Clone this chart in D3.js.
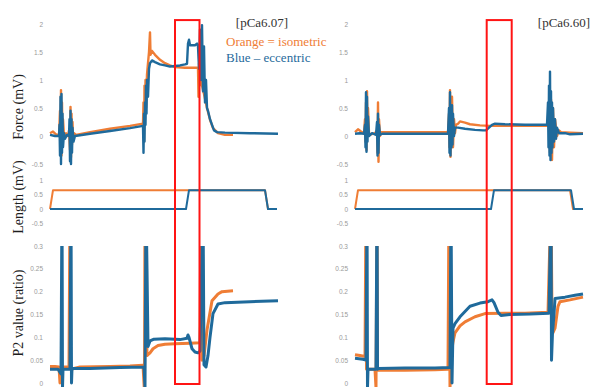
<!DOCTYPE html>
<html>
<head>
<meta charset="utf-8">
<script src="https://cdn.jsdelivr.net/npm/d3@7"></script>
<style>
  body { margin: 0; background: #fff; }
  svg { display: block; }
  .tick text { font-family: "Liberation Sans", sans-serif; font-size: 6.5px; fill: #9a9a9a; }
  .ytitle { font-family: "Liberation Serif", serif; font-size: 14px; fill: #1e1e1e; }
  .label { font-family: "Liberation Serif", serif; font-size: 13px; }
</style>
</head>
<body>
<div id="chart"></div>
<script>
// time in arbitrary units (0..228) along each panel
const forceTicks = [-0.5, 0, 0.5, 1, 1.5, 2];
const lengthTicks = [-0.5, 0, 0.5, 1];
const p2Ticks = [0, 0.05, 0.1, 0.15, 0.2, 0.25, 0.3];

const panelTitles = ['[pCa6.07]', '[pCa6.60]'];
const yTitles = ['Force (mV)', 'Length (mV)', 'P2 value (ratio)'];
const legendLabels = ['Orange = isometric', 'Blue \u2013 eccentric'];

// highlighted window [start, end] per panel
const windows = [[125, 149.5], [131.7, 156.7]];

// ---- pCa6.07 ----
const forceIso607 = [
  [0, 0.05], [3, 0.08], [6, 0.03], [8, 0.02], [9, 0.0], [10, 0.45], [10.5, -0.2], [11, 0.82],
  [11.5, -0.35], [12, 0.6], [12.5, -0.1], [13, 0.3], [14, 0.0], [16, 0.05], [18, 0.0],
  [19, 0.1], [20, -0.25], [20.5, 0.52], [21, -0.38], [21.5, 0.4], [22, -0.15], [22.5, 0.25],
  [23, -0.05], [24, 0.05], [26, 0.02], [40, 0.07], [60, 0.13], [80, 0.18], [93, 0.22],
  [93.5, 0.6], [94, -0.1], [94.5, 0.9], [95, 0.3], [95.5, 1.0], [96, 0.5], [97, 1.1],
  [98, 1.3], [99, 1.5], [100, 1.85], [100.5, 1.45], [102, 1.52], [105, 1.45], [110, 1.36],
  [115, 1.3], [120, 1.26], [125, 1.23], [135, 1.22], [148, 1.22], [148.5, 0.7], [149, 1.3],
  [149.5, 0.9], [150, 1.05], [152, 0.9], [154, 0.75], [157, 0.5], [160, 0.29], [163, 0.14],
  [168, 0.05], [175, 0.02], [183, 0.02]
];
const forceEcc607 = [
  [0, 0.02], [5, 0.0], [9, 0.0], [9.5, 0.2], [10, -0.35], [10.5, 0.7], [11, -0.5], [11.5, 0.75],
  [12, -0.3], [12.5, 0.4], [13, -0.2], [14, 0.05], [15, -0.05], [17, 0.02], [19, 0.0],
  [19.5, 0.3], [20, -0.45], [20.5, 0.45], [21, -0.5], [21.5, 0.3], [22, -0.3], [22.5, 0.15],
  [23.5, -0.1], [25, 0.0], [40, 0.04], [60, 0.09], [80, 0.14], [93, 0.18], [93.5, -0.3],
  [94, 0.4], [94.5, -0.1], [95, 0.6], [95.5, 0.2], [96, 0.9], [96.5, 0.4], [97, 1.0],
  [98, 0.7], [99, 1.2], [100, 1.3], [102, 1.35], [105, 1.32], [110, 1.28], [115, 1.26],
  [120, 1.24], [125, 1.25], [130, 1.26], [135, 1.28], [137, 1.29], [138, 1.65], [139, 1.72],
  [140, 1.62], [145, 1.62], [147, 1.65], [148, 1.6], [149, 1.2], [150, 1.9], [151, 1.0],
  [152, 1.98], [153, 0.8], [154, 1.6], [155, 0.6], [156, 1.0], [157, 0.5], [158, 0.45],
  [160, 0.3], [162, 0.2], [164, 0.1], [167, 0.07], [175, 0.06], [200, 0.05], [228, 0.04]
];
const lengthIso607 = [[0, 0], [3, 0.65], [215, 0.65], [218, 0], [227, 0]];
const lengthEcc607 = [[0, 0], [136, 0], [139, 0.65], [215, 0.65], [218, 0], [227, 0]];
const p2Iso607 = [
  [0, 0.036], [5, 0.036], [9, 0.035], [10, 0.0], [11, 0.035], [19, 0.035], [20, 0.4],
  [20.5, 0.035], [21, 0.03], [30, 0.035], [60, 0.036], [80, 0.037], [93, 0.039], [94.5, -0.02],
  [95, 0.4], [96, 0.2], [97, 0.06], [98, 0.062], [100, 0.066], [103, 0.075], [108, 0.082],
  [115, 0.085], [125, 0.086], [140, 0.087], [150, 0.088], [151, 0.4], [152, 0.05], [154, 0.06],
  [157, 0.116], [162, 0.18], [168, 0.195], [172, 0.2], [183, 0.202]
];
const p2Ecc607 = [
  [0, 0.03], [8, 0.03], [11, 0.02], [12, 0.4], [12.5, -0.01], [13, 0.03], [20, 0.03],
  [21, 0.4], [21.5, 0.0], [22, 0.032], [40, 0.032], [70, 0.034], [94, 0.035], [95, -0.01],
  [96, 0.4], [97, 0.25], [98, 0.08], [100, 0.092], [104, 0.096], [115, 0.097], [130, 0.095],
  [137, 0.098], [138, 0.105], [139, 0.1], [142, 0.075], [145, 0.068], [148, 0.066],
  [150, 0.07], [153, 0.4], [154, 0.04], [156, 0.035], [158, 0.06], [160, 0.1], [163, 0.152],
  [168, 0.173], [175, 0.176], [200, 0.178], [228, 0.18]
];

// ---- pCa6.60 ----
const forceIso660 = [
  [0, 0.07], [3, 0.12], [6, 0.08], [9, 0.05], [10, 0.3], [10.5, -0.1], [11, 0.6], [11.5, -0.25],
  [12, 0.8], [12.5, 0.0], [13, 0.5], [14, 0.05], [16, 0.03], [20, 0.05], [22, 0.1],
  [22.5, -0.3], [23, 0.6], [23.5, -0.46], [24, 0.3], [25, 0.0], [26, 0.07], [60, 0.07],
  [93, 0.07], [94, 0.4], [94.5, -0.2], [95, 0.82], [95.5, -0.37], [96, 0.6], [96.5, -0.1],
  [97, 0.7], [98, -0.2], [99, 0.3], [100, 0.05], [101, 0.2], [103, 0.22], [105, 0.26],
  [110, 0.24], [115, 0.21], [125, 0.19], [135, 0.18], [170, 0.18], [193, 0.18], [194, 0.4],
  [195, -0.3], [196, 0.65], [197, -0.43], [198, 0.5], [199, -0.2], [200, 0.3], [202, 0.0],
  [204, 0.1], [206, 0.07], [215, 0.06], [228, 0.05]
];
const forceEcc660 = [
  [0, 0.04], [5, 0.05], [9, 0.04], [10, 0.2], [10.5, -0.2], [11, 0.78], [11.5, -0.28],
  [12, 0.7], [12.5, -0.1], [13, 0.35], [14, 0.0], [17, 0.05], [21, 0.02], [22, 0.25],
  [22.5, -0.35], [23, 0.4], [23.5, -0.3], [24, 0.2], [25, 0.02], [27, 0.04], [93, 0.04],
  [94, 0.5], [94.5, -0.3], [95, 0.78], [95.5, -0.35], [96, 0.5], [96.5, -0.2], [97, 0.55],
  [97.5, -0.15], [98, 0.4], [99, 0.0], [100, 0.15], [103, 0.15], [110, 0.13], [120, 0.11],
  [128, 0.1], [131, 0.1], [134, 0.15], [137, 0.2], [140, 0.22], [150, 0.21], [170, 0.2],
  [192, 0.2], [193, 0.6], [193.5, -0.2], [194, 0.9], [194.5, -0.35], [195, 1.15],
  [195.5, -0.43], [196, 0.8], [196.5, -0.3], [197, 0.6], [197.5, -0.2], [198, 0.5],
  [199, -0.1], [200, 0.3], [201, -0.05], [202, 0.15], [204, 0.05], [210, 0.05], [215, 0.03],
  [228, 0.04]
];
const lengthIso660 = [[0, 0], [3, 0.65], [215, 0.65], [218, 0], [228, 0]];
const lengthEcc660 = [[0, 0], [136, 0], [139, 0.65], [216, 0.65], [219, 0], [228, 0]];
const p2Iso660 = [
  [0, 0.062], [5, 0.06], [10, 0.058], [11, 0.4], [11.5, 0.03], [20, 0.03], [21, -0.01],
  [22, 0.4], [22.5, 0.03], [23, 0.028], [50, 0.028], [80, 0.029], [93, 0.03], [94, 0.4],
  [95, -0.01], [96, 0.06], [98, 0.09], [100, 0.11], [105, 0.125], [110, 0.134], [120, 0.145],
  [130, 0.152], [150, 0.153], [170, 0.153], [193, 0.155], [196, 0.4], [197, 0.14],
  [198, 0.11], [200, 0.12], [203, 0.168], [205, 0.178], [215, 0.182], [228, 0.188]
];
const p2Ecc660 = [
  [0, 0.054], [8, 0.052], [11, 0.05], [12, 0.4], [12.5, -0.01], [13, 0.03], [21, 0.03],
  [22, 0.4], [22.5, 0.03], [23, 0.032], [50, 0.033], [80, 0.033], [95, 0.034], [96, 0.4],
  [97, 0.0], [98, 0.12], [100, 0.13], [105, 0.145], [115, 0.168], [125, 0.175], [133, 0.178],
  [137, 0.182], [139, 0.176], [143, 0.155], [146, 0.148], [155, 0.15], [175, 0.151],
  [194, 0.153], [196, 0.4], [196.5, 0.05], [197.5, 0.11], [199, 0.15], [200, 0.185],
  [210, 0.188], [220, 0.192], [228, 0.195]
];

const orange = '#ef7d35';
const blue = '#1f6a9b';
const width = 592, height = 387;

const svg = d3.select('#chart').append('svg')
  .attr('width', width)
  .attr('height', height);

svg.append('rect').attr('width', width).attr('height', height).attr('fill', '#fff');

const yForce = d3.scaleLinear().domain([-0.5, 2]).range([164, 24]);
const yLength = d3.scaleLinear().domain([-0.5, 1]).range([223.5, 180]);
const yP2 = d3.scaleLinear().domain([0, 0.3]).range([383, 246]);

const panels = [
  { x0: 50, title: panelTitles[0], data: [
      [forceIso607, forceEcc607, yForce, forceTicks],
      [lengthIso607, lengthEcc607, yLength, lengthTicks],
      [p2Iso607, p2Ecc607, yP2, p2Ticks]
    ], win: windows[0], titleX: 262 },
  { x0: 355, title: panelTitles[1], data: [
      [forceIso660, forceEcc660, yForce, forceTicks],
      [lengthIso660, lengthEcc660, yLength, lengthTicks],
      [p2Iso660, p2Ecc660, yP2, p2Ticks]
    ], win: windows[1], titleX: 564 }
];

svg.append('defs').append('clipPath')
  .attr('id', 'clipP2')
  .append('rect')
  .attr('x', 0).attr('y', yP2(0.3)).attr('width', width).attr('height', height);

panels.forEach((p, pi) => {
  const x = d3.scaleLinear().domain([0, 228]).range([p.x0, p.x0 + 228]);

  p.data.forEach((row, ri) => {
    const [iso, ecc, y, ticks] = row;

    const axis = d3.axisLeft(y)
      .tickValues(ticks)
      .tickSize(0)
      .tickPadding(3)
      .tickFormat(d => String(d));
    svg.append('g')
      .attr('transform', `translate(${p.x0 - 4},0)`)
      .call(axis)
      .call(g => g.select('.domain').remove());

    const line = d3.line()
      .x(d => x(d[0]))
      .y(d => y(d[1]));

    const g = svg.append('g');
    if (ri === 2) g.attr('clip-path', 'url(#clipP2)');

    const sw = ri === 1 ? 2 : (ri === 2 ? 3 : 2.4);
    g.append('path')
      .datum(iso)
      .attr('d', line)
      .attr('fill', 'none')
      .attr('stroke', orange)
      .attr('stroke-width', sw)
      .attr('stroke-linejoin', 'round');
    g.append('path')
      .datum(ecc)
      .attr('d', line)
      .attr('fill', 'none')
      .attr('stroke', blue)
      .attr('stroke-width', sw)
      .attr('stroke-linejoin', 'round');
  });

  // red highlight window
  const top = yForce(2.07);
  const bottom = 384;
  svg.append('rect')
    .attr('x', x(p.win[0]))
    .attr('y', top)
    .attr('width', x(p.win[1]) - x(p.win[0]))
    .attr('height', bottom - top)
    .attr('fill', 'none')
    .attr('stroke', '#ff1414')
    .attr('stroke-width', 2);

  svg.append('text')
    .attr('class', 'label')
    .attr('x', p.titleX)
    .attr('y', 27)
    .attr('text-anchor', 'middle')
    .attr('fill', '#333')
    .text(p.title);
});

// legend
svg.append('text').attr('class', 'label')
  .attr('x', 226).attr('y', 46)
  .attr('fill', orange)
  .text(legendLabels[0]);
svg.append('text').attr('class', 'label')
  .attr('x', 226).attr('y', 62)
  .attr('fill', blue)
  .text(legendLabels[1]);

// y titles
const titleY = [107, 197, 313];
yTitles.forEach((t, i) => {
  svg.append('text')
    .attr('class', 'ytitle')
    .attr('transform', `translate(23,${titleY[i]}) rotate(-90)`)
    .attr('text-anchor', 'middle')
    .text(t);
});
</script>
</body>
</html>
